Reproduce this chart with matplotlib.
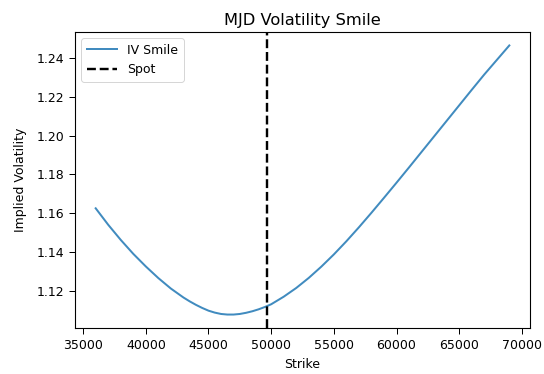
import matplotlib
matplotlib.use("Agg")
import matplotlib.pyplot as plt

strikes = [36000, 37000, 38000, 39000, 40000, 41000, 42000, 43000, 43500, 44000,
           44500, 45000, 45500, 46000, 46500, 47000, 47500, 48000, 48500, 49000,
           49500, 50000, 51000, 52000, 53000, 54000, 55000, 56000, 57000, 58000,
           59000, 60000, 61000, 62000, 63000, 64000, 65000, 66000, 67000, 68000,
           69000]
iv = [1.1625, 1.1540, 1.1462, 1.1390, 1.1325, 1.1265, 1.1211, 1.1165, 1.1145, 1.1127,
      1.1111, 1.1097, 1.1087, 1.1080, 1.1077, 1.1077, 1.1080, 1.1086, 1.1094, 1.1104,
      1.1116, 1.1130, 1.1169, 1.1214, 1.1266, 1.1324, 1.1387, 1.1455, 1.1527, 1.1602,
      1.1679, 1.1757, 1.1836, 1.1916, 1.1996, 1.2076, 1.2156, 1.2236, 1.2315, 1.2390,
      1.2465]
spot = 49630

plt.rcParams['font.size'] = 12.5
fig = plt.figure(figsize=(544/72, 374/72), dpi=72)
ax = fig.add_axes([75/544, (374-328)/374, 455/544, 296/374])
ax.plot(strikes, iv, color='#1f77b4', lw=2, label='IV Smile', alpha=0.85)
ax.axvline(spot, color='black', linestyle='--', lw=2.4, label='Spot')
ax.set_title('MJD Volatility Smile', fontsize=16.3, pad=7)
ax.set_xlabel('Strike', fontsize=12.5, labelpad=6)
ax.set_ylabel('Implied Volatility', fontsize=12.5, labelpad=9)
ax.tick_params(labelsize=12.5, length=6, width=1, pad=5)
for s in ax.spines.values():
    s.set_linewidth(1.1)
ax.legend(loc='upper left', fontsize=12.5, handlelength=2.4, borderpad=0.45)
fig.savefig('out.png', dpi=72)
